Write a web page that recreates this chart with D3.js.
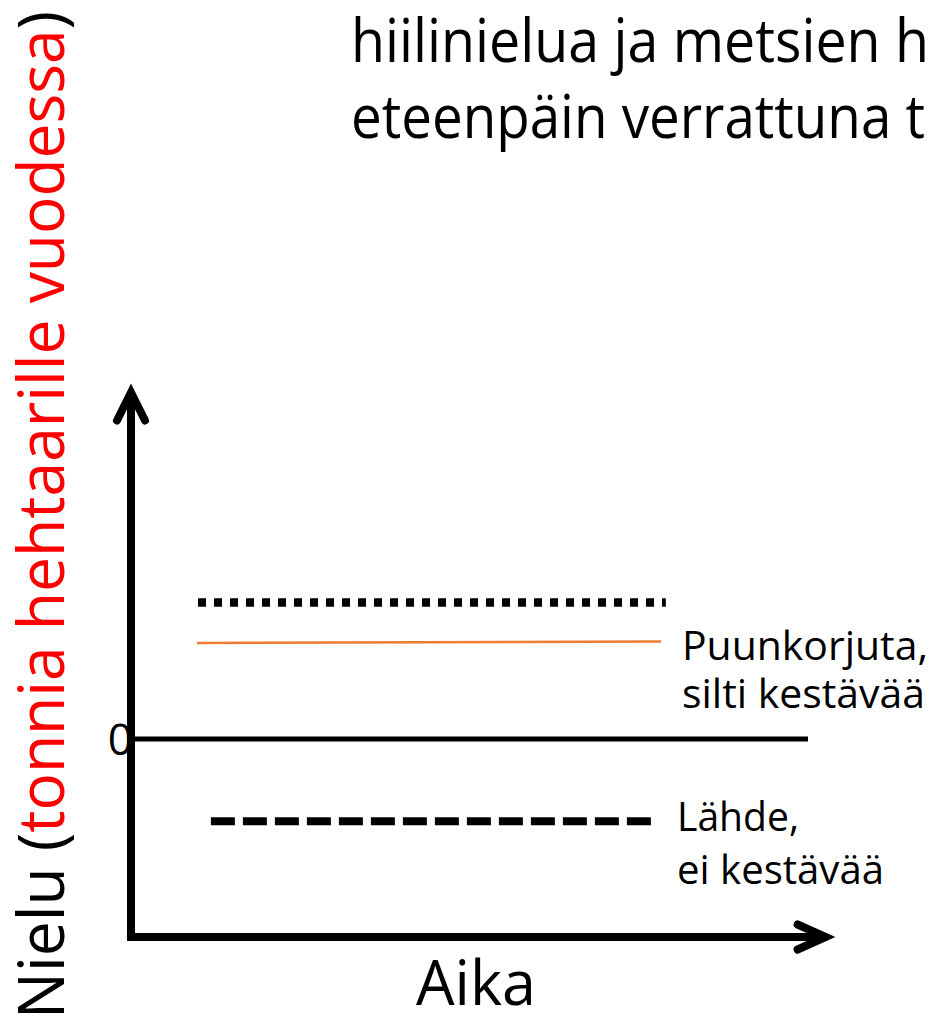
<!DOCTYPE html>
<html>
<head>
<meta charset="utf-8">
<script src="https://cdn.jsdelivr.net/npm/d3@7"></script>
<style>
  html, body { margin: 0; padding: 0; background: #fff; }
  svg { display: block; }
  text { font-family: 'Open Sans', 'Noto Sans', sans-serif; }
</style>
</head>
<body>
<svg id="chart" width="933" height="1021"></svg>
<script>
// ---- data (abstract units) ----
const xDomain = [0, 100];          // time (Aika)
const yDomain = [-2, 3.5];         // sink, t/ha/yr
const zeroTick = [0];
const tickLabels = ["0"];

const noHarvestX = [9.9, 79.0];    // dotted line
const noHarvestY = [1.38, 1.38];
const harvestX = [9.75, 78.3];     // orange line
const harvestY = [0.97, 0.985];
const sourceX = [11.8, 76.8];      // dashed line
const sourceY = [-0.83, -0.83];
const zeroX = [0, 100];
const zeroY = [0, 0];

const titleLines = ["hiilinielua ja metsien h", "eteenpäin verrattuna t"];
const harvestLabel = ["Puunkorjuta,", "silti kestävää"];
const sourceLabel = ["Lähde,", "ei kestävää"];
const xTitle = "Aika";
const yTitleParts = [["Nielu (", "#000"], ["tonnia hehtaarille vuodessa", "#ff0000"], [")", "#000"]];

// ---- scales ----
const svg = d3.select("#chart");
const x = d3.scaleLinear().domain(xDomain).range([131, 808]);
const y = d3.scaleLinear().domain(yDomain).range([937, 392.5]);

const line = d3.line().x(d => x(d[0])).y(d => y(d[1]));
const pts = (xs, ys) => xs.map((v, i) => [v, ys[i]]);

// zero line
svg.append("path").attr("d", line(pts(zeroX, zeroY)))
  .attr("stroke", "#000").attr("stroke-width", 5).attr("fill", "none");

// dotted line
svg.append("path").attr("d", line(pts(noHarvestX, noHarvestY)))
  .attr("stroke", "#000").attr("stroke-width", 8.5).attr("fill", "none")
  .attr("stroke-dasharray", "8,8");

// orange line
svg.append("path").attr("d", line(pts(harvestX, harvestY)))
  .attr("stroke", "#ED7D31").attr("stroke-width", 2.6).attr("fill", "none");

// dashed line
svg.append("path").attr("d", line(pts(sourceX, sourceY)))
  .attr("stroke", "#000").attr("stroke-width", 8).attr("fill", "none")
  .attr("stroke-dasharray", "24,8");

// axes
const x0 = x(xDomain[0]), yb = y(yDomain[0]), yt = y(yDomain[1]);
const xEnd = x(102.6);
svg.append("path")
  .attr("d", `M${x0},${yt + 2}V${yb}H${xEnd - 2}`)
  .attr("stroke", "#000").attr("stroke-width", 8).attr("fill", "none")
  .attr("stroke-linejoin", "miter");
// arrowheads
svg.append("path")
  .attr("d", `M${x0 - 14},${yt + 28}L${x0},${yt}L${x0 + 14},${yt + 28}`)
  .attr("stroke", "#000").attr("stroke-width", 8).attr("fill", "none")
  .attr("stroke-linecap", "round").attr("stroke-linejoin", "miter");
svg.append("path")
  .attr("d", `M${xEnd - 28},${yb - 12.5}L${xEnd},${yb}L${xEnd - 28},${yb + 12.5}`)
  .attr("stroke", "#000").attr("stroke-width", 8).attr("fill", "none")
  .attr("stroke-linecap", "round").attr("stroke-linejoin", "miter");

// zero tick label via axis
const yAxis = d3.axisLeft(y).tickValues(zeroTick).tickFormat((d, i) => tickLabels[i])
  .tickSize(0).tickPadding(0);
const gy = svg.append("g").attr("transform", `translate(${x0 + 2},0)`).call(yAxis);
gy.select(".domain").remove();
gy.selectAll("text").attr("font-family", "'Open Sans', sans-serif")
  .attr("font-size", 44).attr("fill", "#000").attr("dy", "0.36em");

// title lines
const titleY = [62, 138];
const titleW = [578, 574];
titleLines.forEach((t, i) => {
  svg.append("text").attr("x", 351).attr("y", titleY[i])
    .attr("font-size", 60).attr("fill", "#000")
    .attr("textLength", titleW[i]).attr("lengthAdjust", "spacingAndGlyphs")
    .text(t);
});

// annotation labels
const addLabel = (lines, lx, ys, ws, fs) => {
  lines.forEach((t, i) => {
    svg.append("text").attr("x", lx).attr("y", ys[i])
      .attr("font-size", fs).attr("fill", "#000")
      .attr("textLength", ws[i]).attr("lengthAdjust", "spacingAndGlyphs")
      .text(t);
  });
};
addLabel(harvestLabel, 682, [660, 708], [246, 243], 41);
addLabel(sourceLabel, 677, [831, 884], [122, 207], 41);

// x title
svg.append("text").attr("x", 416).attr("y", 1005)
  .attr("font-size", 63).attr("fill", "#000")
  .attr("textLength", 120).attr("lengthAdjust", "spacingAndGlyphs")
  .text(xTitle);

// y title
const yt2 = svg.append("text")
  .attr("transform", "translate(64,1019) rotate(-90)")
  .attr("font-size", 64)
  .attr("textLength", 1008).attr("lengthAdjust", "spacingAndGlyphs");
yTitleParts.forEach(p => yt2.append("tspan").attr("fill", p[1]).text(p[0]));
</script>
</body>
</html>
